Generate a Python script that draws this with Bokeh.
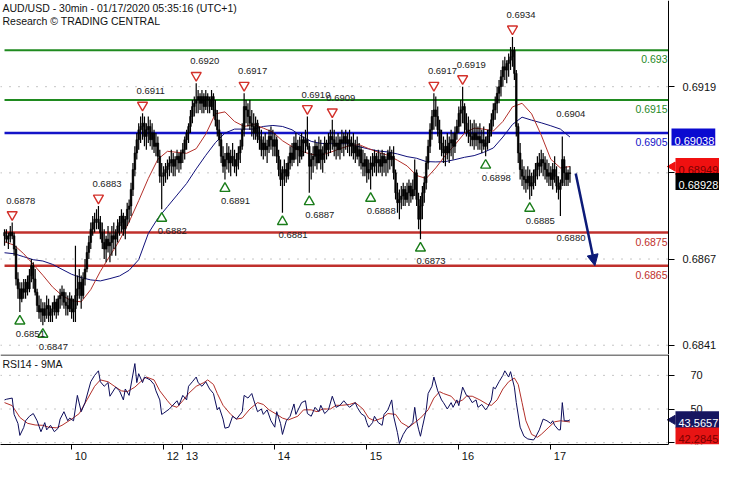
import math
from bokeh.plotting import figure
from bokeh.models import Range1d, FixedTicker, Label, Arrow, NormalHead, ColumnDataSource, LinearAxis
from bokeh.layouts import column
from bokeh.embed import file_html
from bokeh.resources import INLINE
from bokeh.core.properties import value

# ---------------- data (prices in pips above 0.6800) ----------------
PIP_BASE = 0.6800
PIP = 0.0001
first_open_pips = 75

high_pips = [
    76, 76, 75, 77, 78, 75, 71, 63, 60, 60,
    61, 61, 62, 64, 67, 66, 64, 58, 56, 55,
    54, 54, 56, 55, 53, 54, 56, 55, 56, 58,
    59, 58, 57, 56, 57, 56, 55, 71, 62, 64,
    62, 63, 67, 71, 74, 78, 80, 81, 82, 83,
    80, 78, 76, 74, 77, 75, 77, 78, 76, 79,
    80, 82, 81, 80, 84, 85, 90, 96, 101, 105,
    108, 110, 111, 110, 108, 110, 109, 108, 106, 105,
    104, 100, 96, 95, 96, 97, 98, 100, 99, 98,
    100, 99, 100, 102, 104, 106, 108, 112, 115, 116,
    120, 118, 117, 118, 117, 118, 117, 116, 118, 117,
    115, 112, 109, 105, 101, 99, 102, 101, 100, 102,
    100, 99, 101, 103, 108, 117, 115, 114, 115, 112,
    111, 110, 109, 107, 106, 104, 105, 103, 106, 107,
    106, 105, 104, 100, 97, 95, 97, 96, 98, 101,
    102, 104, 105, 103, 104, 105, 104, 106, 110, 102,
    99, 101, 103, 102, 104, 103, 101, 104, 103, 105,
    106, 109, 106, 104, 105, 104, 106, 105, 106, 105,
    106, 104, 105, 103, 104, 102, 101, 100, 99, 98,
    97, 98, 99, 100, 99, 100, 99, 100, 99, 98,
    100, 101, 100, 101, 94, 90, 88, 89, 90, 89,
    90, 91, 90, 91, 97, 94, 87, 86, 89, 92,
    98, 103, 108, 112, 117, 116, 113, 109, 106, 104,
    103, 105, 104, 106, 105, 107, 109, 113, 115, 119,
    114, 111, 110, 109, 108, 109, 108, 107, 108, 106,
    107, 104, 106, 108, 111, 114, 116, 119, 121, 124,
    127, 128, 127, 129, 131, 134, 131, 124, 108, 102,
    97, 95, 94, 95, 94, 93, 94, 96, 98, 99,
    100, 99, 98, 97, 96, 95, 96, 98, 95, 92,
    91, 104, 98, 95, 94, 95]
low_pips = [
    71, 72, 70, 72, 73, 68, 59, 55, 51, 54,
    55, 55, 56, 57, 60, 58, 56, 51, 49, 48,
    47, 48, 49, 48, 48, 48, 50, 49, 50, 52,
    53, 52, 50, 50, 51, 49, 48, 48, 53, 55,
    52, 55, 59, 63, 67, 70, 74, 75, 76, 76,
    73, 70, 67, 66, 69, 66, 68, 70, 68, 72,
    74, 75, 74, 73, 77, 78, 80, 86, 92, 97,
    100, 102, 103, 101, 100, 102, 101, 100, 99, 98,
    96, 90, 82, 89, 90, 91, 92, 93, 92, 92,
    94, 93, 94, 96, 97, 100, 102, 105, 108, 110,
    111, 111, 112, 111, 111, 112, 111, 111, 112, 110,
    107, 104, 101, 96, 93, 91, 94, 93, 92, 95,
    93, 92, 94, 96, 100, 104, 108, 107, 106, 104,
    103, 103, 102, 100, 98, 97, 98, 96, 99, 100,
    98, 98, 96, 92, 89, 81, 89, 90, 91, 94,
    95, 96, 97, 95, 96, 97, 98, 99, 100, 87,
    91, 93, 95, 94, 96, 94, 93, 96, 97, 98,
    99, 100, 98, 97, 98, 97, 99, 98, 100, 99,
    98, 98, 97, 96, 97, 95, 94, 92, 92, 90,
    91, 88, 92, 93, 92, 93, 93, 92, 93, 92,
    93, 94, 95, 91, 85, 81, 79, 82, 83, 83,
    84, 83, 84, 85, 86, 83, 76, 73, 79, 84,
    88, 94, 99, 103, 106, 107, 104, 100, 98, 96,
    95, 97, 96, 98, 97, 99, 103, 105, 107, 108,
    105, 104, 102, 101, 101, 100, 101, 100, 100, 99,
    100, 98, 100, 102, 104, 107, 109, 111, 114, 116,
    119, 121, 120, 122, 124, 125, 121, 104, 96, 91,
    89, 88, 87, 88, 85, 86, 88, 89, 91, 92,
    93, 92, 91, 90, 89, 89, 88, 90, 87, 85,
    80, 89, 89, 89, 89, 90]
close_pips = [
    74, 73, 74, 75, 74, 70, 61, 58, 55, 58,
    57, 60, 58, 62, 65, 61, 57, 53, 51, 52,
    50, 52, 53, 50, 51, 52, 54, 51, 55, 56,
    57, 54, 53, 52, 55, 51, 52, 56, 58, 60,
    56, 61, 64, 69, 72, 76, 78, 79, 79, 78,
    75, 72, 70, 73, 71, 72, 74, 73, 75, 77,
    78, 80, 76, 79, 82, 83, 88, 94, 99, 103,
    106, 107, 108, 104, 106, 107, 103, 105, 101, 102,
    98, 92, 92, 93, 94, 95, 96, 97, 95, 97,
    98, 96, 99, 100, 103, 105, 107, 110, 113, 114,
    115, 116, 114, 116, 113, 116, 115, 113, 116, 112,
    109, 106, 103, 98, 95, 97, 99, 96, 98, 97,
    95, 97, 99, 101, 106, 113, 112, 110, 108, 107,
    105, 108, 104, 103, 100, 102, 100, 101, 104, 103,
    101, 103, 98, 94, 91, 93, 94, 92, 96, 99,
    97, 102, 100, 101, 98, 103, 102, 103, 101, 95,
    97, 98, 101, 96, 100, 97, 99, 102, 100, 102,
    104, 103, 101, 102, 100, 103, 102, 104, 102, 103,
    101, 102, 99, 101, 98, 100, 96, 95, 97, 93,
    94, 96, 95, 98, 96, 97, 95, 98, 96, 97,
    99, 97, 98, 93, 87, 84, 85, 86, 88, 85,
    87, 89, 86, 88, 93, 85, 79, 83, 87, 90,
    96, 101, 106, 110, 112, 110, 106, 102, 100, 99,
    101, 99, 102, 103, 101, 105, 107, 111, 112, 113,
    108, 106, 105, 104, 103, 105, 103, 104, 102, 103,
    101, 102, 104, 106, 109, 112, 114, 117, 119, 122,
    125, 124, 126, 127, 128, 130, 123, 107, 99, 94,
    92, 91, 90, 92, 89, 90, 92, 94, 96, 95,
    97, 96, 94, 92, 93, 91, 94, 92, 89, 88,
    90, 97, 93, 91, 93, 92.8]

MA_STEP = 5
red_ma_pips = [
    72.2, 71.2, 68.6, 65.4, 62.1, 58.6, 56.0, 54.4, 54.1, 57.8,
    63.3, 68.0, 72.6, 78.2, 84.6, 91.3, 97.1, 99.5, 99.2, 98.9,
    100.3, 104.7, 110.8, 111.4, 108.5, 107.0, 107.6, 106.5, 105.3, 102.7,
    100.9, 99.5, 98.6, 98.3, 99.2, 100.3, 101.2, 101.5, 100.3, 99.2,
    98.3, 96.8, 95.1, 92.2, 91.3, 94.5, 98.3, 101.5, 105.0, 106.5,
    106.2, 105.6, 108.5, 112.9, 114.0, 110.8, 104.4, 97.1, 94.5, 94.9]
blue_ma_pips = [
    68.9, 68.6, 67.7, 66.8, 66.4, 65.4, 63.9, 62.4, 61.4, 60.7,
    60.4, 61.1, 61.9, 63.6, 66.8, 74.7, 79.3, 82.8, 86.3, 89.8,
    94.2, 98.3, 102.1, 105.0, 106.2, 106.2, 106.2, 107.0, 107.3, 107.0,
    106.0, 104.0, 102.5, 101.9, 101.8, 101.8, 101.8, 100.9, 100.2, 99.6,
    99.3, 98.7, 97.9, 97.4, 96.4, 96.3, 96.4, 97.0, 97.7, 98.2,
    99.2, 100.5, 103.8, 107.6, 109.8, 108.9, 108.1, 107.2, 106.2, 103.8]

rsi_idx = [0, 1, 4, 5, 7, 8, 10, 11, 13, 15, 17, 19, 21, 22, 24, 26, 28, 29, 31, 33,
           34, 36, 38, 40, 42, 45, 47, 49, 50, 52, 54, 55, 58, 60, 62, 63, 65, 68, 69, 70,
           72, 73, 76, 78, 79, 81, 82, 83, 86, 90, 91, 93, 95, 96, 98, 100, 101, 103, 105, 107,
           109, 111, 112, 114, 115, 117, 119, 121, 124, 125, 127, 129, 130, 132, 134, 135, 137, 139, 141, 142,
           144, 145, 147, 149, 151, 152, 155, 157, 158, 160, 162, 164, 165, 167, 169, 171, 173, 175, 177, 179,
           180, 183, 184, 186, 188, 189, 190, 192, 193, 195, 197, 198, 200, 202, 203, 205, 206, 208, 210, 211,
           213, 214, 215, 216, 217, 218, 220, 221, 223, 224, 226, 228, 229, 231, 233, 234, 236, 237, 239, 241,
           242, 244, 246, 247, 249, 251, 252, 254, 255, 256, 258, 260, 261, 263, 264, 266, 267, 269, 271, 273,
           276, 277, 279, 281, 283, 285, 286, 287, 289, 290, 291, 292, 294, 295]
rsi_val = [55.4, 55.8, 56.5, 46.8, 41.4, 34.3, 39, 43, 45.7, 47.3, 43, 36.5, 41.9, 37.6, 40.3, 36.5, 38.6, 44, 48.4, 43,
           44.6, 43, 58.1, 48.4, 53.8, 66.2, 70, 72.7, 66.2, 63.5, 65.7, 57.6, 63, 60.8, 55.4, 61.9, 58.1, 77, 65.7, 71,
           65.7, 69, 67.3, 64.6, 60.8, 55.4, 46.8, 47.5, 50, 54.9, 52.2, 58.1, 55.4, 63.5, 66.2, 69, 65.7, 63.5, 66.2, 61.9,
           59.2, 49.5, 51, 44, 38.6, 39.2, 45.7, 44, 48.4, 58.1, 56.5, 59.2, 55.4, 48.4, 50, 46.8, 49.5, 43, 39.2, 48.4,
           41.4, 34.9, 43, 45.7, 53, 46.8, 53.8, 54.9, 47.3, 45.7, 51, 48.4, 52.2, 47.3, 49.5, 57.6, 51, 52.2, 54.9, 52.2,
           51, 53.8, 51, 47.3, 45.7, 41.9, 39.2, 41.9, 45.7, 41.9, 40.3, 46.8, 49.5, 55.4, 45.7, 35.9, 29.5, 34.9, 38.6, 39.2,
           41.9, 51, 43, 38, 33.8, 39.2, 49.5, 59.2, 63.5, 69, 60.8, 55.4, 53.8, 50, 53.8, 51, 55.4, 52, 63, 58.1,
           57.6, 53.8, 55.4, 51, 52.7, 49.5, 51, 55.4, 63, 62, 66.2, 70, 72.7, 69, 72.2, 63, 53.8, 39.2, 33.8, 32.2,
           31.6, 33.2, 37.6, 44, 43, 41.4, 43, 40.3, 37.6, 37.6, 53.8, 43, 43, 43.5657]
rsi_ma_idx = [0, 4, 8, 12, 16, 20, 23, 27, 30, 35, 39, 43, 47, 50, 54, 58, 61, 64, 68, 71,
              74, 78, 81, 85, 87, 90, 93, 96, 100, 104, 106, 109, 111, 114, 118, 121, 124, 128, 132, 135,
              138, 142, 145, 148, 153, 156, 160, 163, 166, 170, 173, 176, 180, 183, 187, 190, 193, 197, 200, 204,
              207, 211, 214, 217, 221, 224, 227, 229, 233, 236, 239, 241, 244, 248, 252, 254, 257, 260, 263, 266,
              268, 270, 272, 275, 278, 280, 284, 287, 290, 295]
rsi_ma_val = [53.8, 52, 45, 41.5, 40.5, 40.3, 39.2, 38.8, 40.3, 44, 47.3, 55.4, 63.5, 67.3, 66.2, 63, 60.8, 60.3, 63, 66.2,
              69, 67.3, 60.8, 54.9, 52.2, 51, 54.9, 59.2, 63.5, 65.7, 67.3, 64.6, 59.2, 52.2, 46.8, 44, 44.6, 50, 53.8, 52.7,
              49.5, 46.8, 44.6, 43.5, 45.7, 49.5, 49.5, 48.4, 50, 50, 52.2, 52.2, 52.7, 53.8, 50, 44.6, 43, 44.6, 47.3, 46.8,
              41.9, 39.2, 41.9, 44.6, 49.5, 56.5, 60.3, 59.2, 57.6, 53.8, 55.4, 57.6, 57.6, 55.4, 52.7, 52.2, 55.4, 61.9, 66.2, 68.4,
              64.6, 53.8, 43, 34.9, 33.2, 34.9, 39.2, 42.4, 43, 42.2845]

levels = [0.6930, 0.6915, 0.6905, 0.6875, 0.6865]
level_labels = ["0.693", "0.6915", "0.6905", "0.6875", "0.6865"]

peak_idx = [4, 49, 72, 100, 125, 158, 171, 224, 239, 265]
peak_val = [0.6878, 0.6883, 0.6911, 0.6920, 0.6917, 0.6910, 0.6909, 0.6917, 0.6919, 0.6934]
trough_idx = [8, 20, 82, 115, 145, 159, 191, 217, 251, 274]
trough_val = [0.6851, 0.6847, 0.6882, 0.6891, 0.6881, 0.6887, 0.6888, 0.6873, 0.6898, 0.6885]
last_peak_idx, last_peak_val = 291, 0.6904
last_trough_idx, last_trough_val = 290, 0.6880

day_idx = [35, 83, 93, 141, 189, 237, 285]
day_labels = ["10", "12", "13", "14", "15", "16", "17"]
price_ticks = [0.6841, 0.6867, 0.6893, 0.6919]
price_tick_labels = ["0.6841", "0.6867", "", "0.6919"]
rsi_ticks = [30, 50, 70]
rsi_tick_labels = ["30", "50", "70"]

title_line1 = "AUD/USD - 30min - 01/17/2020 05:35:16 (UTC+1)"
title_line2 = "Research \u00a9 TRADING CENTRAL"

# ---------------- layout / style ----------------
FONT = "Liberation Sans"
W = 719
PLOT_W = 668                  # width of the chart area left of the price axis
MAIN_H = 354
RSI_H = 110
X0, X1 = -2.1, 346.4          # bar-index span of the chart area
PXB = PLOT_W / (X1 - X0)      # pixels per bar
XF = X0 + W / PXB             # frame also holds the axis strip
Y0, Y1 = 0.68382, 0.69450
R0, R1 = 28.9, 82.4
ppx = (Y1 - Y0) / MAIN_H

GREEN = "#1f8a1f"
BLUE = "#1414c8"
RED = "#c0302c"
NAVY = "#0c1a78"
GRID = "#8c8c8c"

def to_price(p):
    return PIP_BASE + p * PIP

def style_axis(ax, standoff):
    ax.axis_line_color = "black"
    ax.major_tick_out = 6
    ax.major_tick_in = 0
    ax.minor_tick_line_color = None
    ax.major_label_standoff = standoff
    ax.major_label_text_font = FONT
    ax.major_label_text_font_size = "11px"
    ax.major_label_text_color = "#111111"

def box(fig, y, text, bg, fg, xoff=3, yoff=0):
    lab = Label(x=X1, y=y, x_offset=xoff, y_offset=yoff, text=text, text_baseline="middle",
                text_color=fg, background_fill_color=bg, text_font=FONT, text_font_size="11px")
    if "padding" in lab.properties():
        lab.padding = (3, 1, 8, 1)
    fig.add_layout(lab)

n = len(close_pips)
idx = list(range(n))
hi = [to_price(v) for v in high_pips]
lo = [to_price(v) for v in low_pips]
cl = [to_price(v) for v in close_pips]
op = [to_price(first_open_pips)] + cl[:-1]
top = [max(a, b) for a, b in zip(op, cl)]
bot = [min(a, b) for a, b in zip(op, cl)]

x_range = Range1d(X0, XF)

p = figure(width=W, height=MAIN_H, x_range=x_range, y_range=Range1d(Y0, Y1),
           output_backend="svg", toolbar_location=None,
           x_axis_location=None, y_axis_location=None, min_border=0)
p.outline_line_color = None
p.grid.visible = False
ya = LinearAxis(fixed_location=X1, ticker=FixedTicker(ticks=price_ticks),
                major_label_overrides=dict(zip(price_ticks, price_tick_labels)))
style_axis(ya, 8)
p.add_layout(ya, "right")

# dotted price grid (stops at the axis)
p.segment(x0=[X0] * len(price_ticks), y0=price_ticks, x1=[X1] * len(price_ticks), y1=price_ticks,
          line_color=GRID, line_dash="1 8", line_width=1)

# level lines
for lv, lab in zip(levels, level_labels):
    col = GREEN if lv > 0.6910 else (BLUE if lv > 0.6890 else RED)
    lw = 2 if col == GREEN else 2.5
    p.segment(x0=[0], y0=[lv], x1=[X1], y1=[lv], line_color=col, line_width=lw)
    p.text(x=[X1], y=[lv], text=[lab], text_align="right", text_baseline="middle",
           x_offset=-1, y_offset=9, text_color=col, text_font=value(FONT), text_font_size="10.5px")

# moving averages
ma_x = [min(k * MA_STEP, n - 1) for k in range(len(red_ma_pips))]
p.line(ma_x, [to_price(v) for v in blue_ma_pips], line_color="#10107a", line_width=1)
p.line(ma_x, [to_price(v) for v in red_ma_pips], line_color="#b3302a", line_width=1)

# candles
src = ColumnDataSource(dict(x=idx, hi=hi, lo=lo, top=top, bot=bot))
p.segment(x0="x", y0="lo", x1="x", y1="hi", source=src, line_color="black", line_width=1.2)
p.vbar(x="x", width=0.85, top="top", bottom="bot", source=src, fill_color="black", line_color="black", line_width=0.6)

# pivot markers
p.scatter(x=peak_idx, y=[v + 8 * ppx for v in peak_val], marker="inverted_triangle", size=10,
          line_color="#d3312b", fill_color="white", line_width=1.4)
p.scatter(x=trough_idx, y=[v - 9 * ppx for v in trough_val], marker="triangle", size=10,
          line_color="#1a7d1a", fill_color="white", line_width=1.4)
p.text(x=peak_idx + [last_peak_idx], y=peak_val + [last_peak_val],
       text=[f"{v:.4f}" for v in peak_val + [last_peak_val]],
       x_offset=-6, y_offset=-22, text_align="left", text_baseline="middle",
       text_color="#222222", text_font=value(FONT), text_font_size="9.5px")
p.text(x=trough_idx + [last_trough_idx], y=trough_val + [last_trough_val],
       text=[f"{v:.4f}" for v in trough_val + [last_trough_val]],
       x_offset=-4, y_offset=22, text_align="left", text_baseline="middle",
       text_color="#222222", text_font=value(FONT), text_font_size="9.5px")

# forecast arrow
p.add_layout(Arrow(end=NormalHead(size=11, fill_color=NAVY, line_color=NAVY),
                   x_start=n - 1 + 3, y_start=cl[-1], x_end=n - 1 + 13, y_end=levels[-1],
                   line_color=NAVY, line_width=2.5))

# title
p.add_layout(Label(x=X0, y=Y1, x_offset=2, y_offset=-1, text=title_line1, text_baseline="top",
                   text_font=FONT, text_font_size="10.5px", text_color="#111111"))
p.add_layout(Label(x=X0, y=Y1, x_offset=2, y_offset=-14, text=title_line2, text_baseline="top",
                   text_font=FONT, text_font_size="10.5px", text_color="#111111"))

# value boxes on the price axis
blue_last = to_price(blue_ma_pips[-1])
red_last = to_price(red_ma_pips[-1])
box(p, blue_last, f"{blue_last:.5f}", "#0a0ad0", "white", xoff=3)
p.scatter(x=[X1 + 4 / PXB], y=[red_last], marker="triangle", angle=math.pi / 2, size=9,
          fill_color="#f01010", line_color="#f01010")
box(p, red_last, f"{red_last:.5f}", "#f01010", "#7a0000", xoff=7)
box(p, cl[-1], f"{cl[-1]:.5f}", "black", "white", xoff=7, yoff=-8)

# ---------------- RSI panel ----------------
q = figure(width=W, height=RSI_H, x_range=x_range, y_range=Range1d(R0, R1),
           output_backend="svg", toolbar_location=None,
           x_axis_location="below", y_axis_location=None, min_border=0)
q.outline_line_color = None
q.grid.visible = False
ra = LinearAxis(fixed_location=X1, ticker=FixedTicker(ticks=rsi_ticks),
                major_label_overrides=dict(zip(rsi_ticks, rsi_tick_labels)))
style_axis(ra, 16)
q.add_layout(ra, "right")
xa = q.xaxis[0]
xa.ticker = FixedTicker(ticks=day_idx)
xa.major_label_overrides = {d: "\u00a0" * 6 + lab for d, lab in zip(day_idx, day_labels)}
style_axis(xa, 0)
xa.major_tick_out = 5
xa.bounds = (X0, X1)

q.segment(x0=[X0] * len(rsi_ticks), y0=rsi_ticks, x1=[X1] * len(rsi_ticks), y1=rsi_ticks,
          line_color=GRID, line_dash="1 8", line_width=1)
q.segment(x0=[X0], y0=[R1 - 0.3], x1=[X1], y1=[R1 - 0.3], line_color="black", line_width=1)
q.line(rsi_ma_idx, rsi_ma_val, line_color="#b3302a", line_width=1)
q.line(rsi_idx, rsi_val, line_color="#0c0c5a", line_width=1)
q.add_layout(Label(x=X0, y=R1, x_offset=2, y_offset=-3, text="RSI14 - 9MA", text_baseline="top",
                   text_font=FONT, text_font_size="10.5px", text_color="#111111"))
q.scatter(x=[X1 + 4 / PXB], y=[rsi_val[-1]], marker="triangle", angle=math.pi / 2, size=9,
          fill_color="#161660", line_color="#161660")
box(q, rsi_val[-1], f"{rsi_val[-1]:.4f}", "#161660", "white", xoff=7)
box(q, rsi_ma_val[-1], f"{rsi_ma_val[-1]:.4f}", "#e81414", "#7a0000", xoff=7, yoff=-14)

layout = column(p, q, spacing=0)
open("out.html", "w").write(file_html(layout, INLINE))
